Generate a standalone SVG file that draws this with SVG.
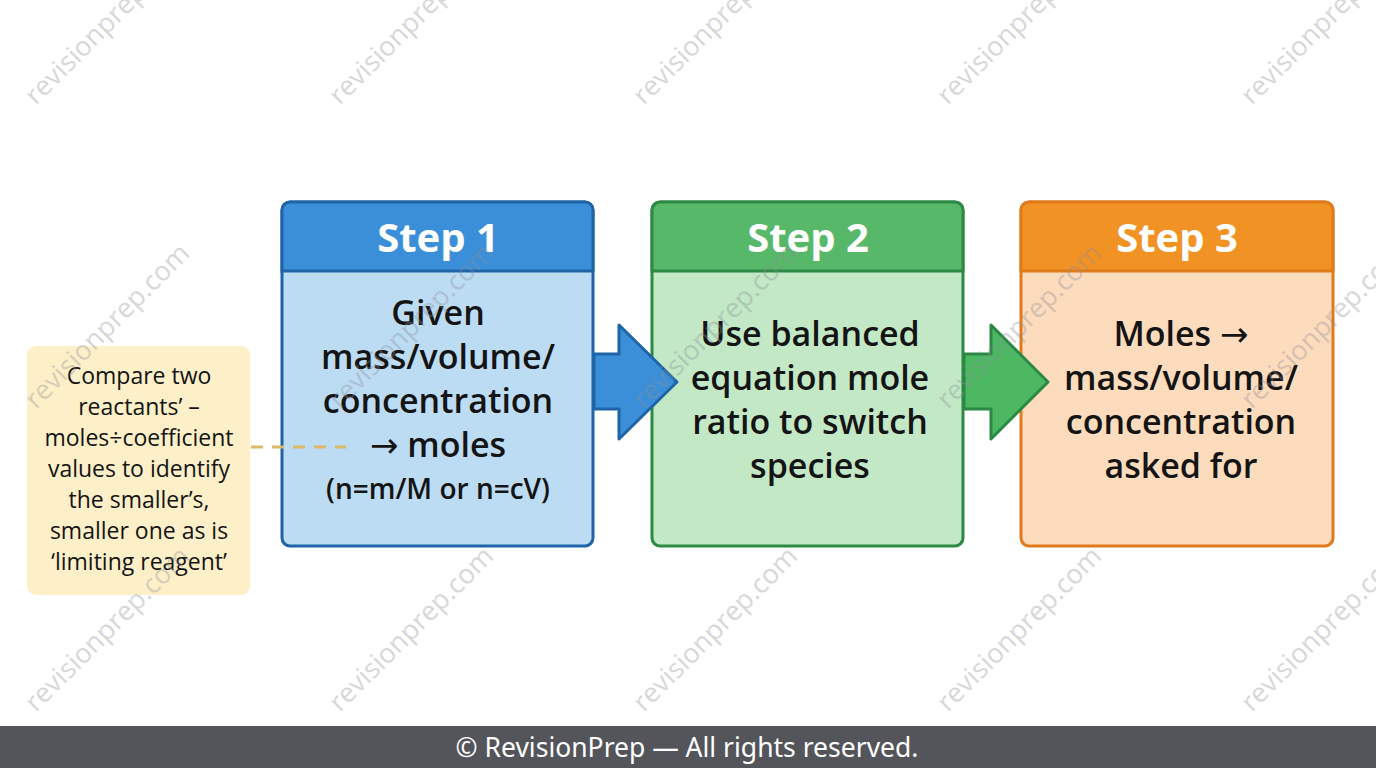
<svg xmlns="http://www.w3.org/2000/svg" width="1376" height="768" viewBox="0 0 1376 768">
<style>
.body{font-family:"Open Sans","Liberation Sans",sans-serif;font-size:34px;font-weight:600;fill:#141414;text-anchor:middle}
.small{font-size:28px}
.arw{font-family:"DejaVu Sans",sans-serif;font-weight:400}
.hdr{font-family:"Open Sans","Liberation Sans",sans-serif;font-size:40px;font-weight:700;fill:#ffffff;text-anchor:middle}
.note{font-family:"Open Sans","Liberation Sans",sans-serif;font-size:23px;font-weight:500;fill:#141414;text-anchor:middle}
.wm{font-family:"Open Sans","Liberation Sans",sans-serif;font-size:27px;fill:#8e8e96;opacity:0.35}
.foot{font-family:"Noto Sans","Open Sans",sans-serif;font-size:26.5px;fill:#ffffff;text-anchor:middle}
</style>
<rect x="0" y="0" width="1376" height="768" fill="#ffffff"/>

<g id="note">
  <rect x="27" y="346" width="223" height="249" rx="9" fill="#fdf0c8"/>
  <text class="note" x="139" y="384">Compare two</text>
  <text class="note" x="139" y="415">reactants’ –</text>
  <text class="note" x="139" y="446">moles÷coefficient</text>
  <text class="note" x="139" y="477">values to identify</text>
  <text class="note" x="139" y="508">the smaller’s,</text>
  <text class="note" x="139" y="539">smaller one as is</text>
  <text class="note" x="139" y="570">‘limiting reagent’</text>
</g>

<g id="step1">
  <rect x="282" y="202" width="311" height="344" rx="8" fill="#bcdcf4" stroke="#1f64a6" stroke-width="3"/>
  <path d="M282,271 V210 a8,8 0 0 1 8,-8 H585 a8,8 0 0 1 8,8 V271 Z" fill="#3b8fd8" stroke="#1f64a6" stroke-width="3"/>
  <text class="hdr" x="438" y="252">Step 1</text>
  <text class="body" x="438" y="325">Given</text>
  <text class="body" x="438" y="369">mass/volume/</text>
  <text class="body" x="438" y="413">concentration</text>
  <text class="body" x="438" y="457"><tspan class="arw">→</tspan> moles</text>
  <text class="body small" x="438" y="499">(n=m/M or n=cV)</text>
</g>

<g id="step2">
  <rect x="652" y="202" width="311" height="344" rx="8" fill="#c2e8c6" stroke="#2c8a44" stroke-width="3"/>
  <path d="M652,271 V210 a8,8 0 0 1 8,-8 H955 a8,8 0 0 1 8,8 V271 Z" fill="#56b868" stroke="#2c8a44" stroke-width="3"/>
  <text class="hdr" x="808" y="252">Step 2</text>
  <text class="body" x="810" y="346">Use balanced</text>
  <text class="body" x="810" y="390">equation mole</text>
  <text class="body" x="810" y="434">ratio to switch</text>
  <text class="body" x="810" y="478">species</text>
</g>

<g id="step3">
  <rect x="1021" y="202" width="312" height="344" rx="8" fill="#fddcbd" stroke="#e07b1c" stroke-width="3"/>
  <path d="M1021,271 V210 a8,8 0 0 1 8,-8 H1325 a8,8 0 0 1 8,8 V271 Z" fill="#f19224" stroke="#e07b1c" stroke-width="3"/>
  <text class="hdr" x="1177" y="252">Step 3</text>
  <text class="body" x="1181" y="346">Moles <tspan class="arw">→</tspan></text>
  <text class="body" x="1181" y="390">mass/volume/</text>
  <text class="body" x="1181" y="434">concentration</text>
  <text class="body" x="1181" y="478">asked for</text>
</g>

<g id="connectors">
  <line x1="251" y1="447" x2="346" y2="447" stroke="#dcb869" stroke-width="3" stroke-dasharray="12 9"/>
  <path d="M594,354 H619 V325 L677,382 L619,439 V409 H594 Z" fill="#3b8fd8" stroke="#1f64a6" stroke-width="3" stroke-linejoin="round"/>
  <path d="M964,354 H991 V325 L1048,382 L991,439 V409 H964 Z" fill="#4db862" stroke="#2a8744" stroke-width="3" stroke-linejoin="round"/>
</g>

<g id="watermarks">
  <text class="wm" x="36" y="106" transform="rotate(-45 36 106)">revisionprep.com</text>
  <text class="wm" x="340" y="106" transform="rotate(-45 340 106)">revisionprep.com</text>
  <text class="wm" x="644" y="106" transform="rotate(-45 644 106)">revisionprep.com</text>
  <text class="wm" x="948" y="106" transform="rotate(-45 948 106)">revisionprep.com</text>
  <text class="wm" x="1252" y="106" transform="rotate(-45 1252 106)">revisionprep.com</text>
  <text class="wm" x="36" y="410" transform="rotate(-45 36 410)">revisionprep.com</text>
  <text class="wm" x="340" y="410" transform="rotate(-45 340 410)">revisionprep.com</text>
  <text class="wm" x="644" y="410" transform="rotate(-45 644 410)">revisionprep.com</text>
  <text class="wm" x="948" y="410" transform="rotate(-45 948 410)">revisionprep.com</text>
  <text class="wm" x="1252" y="410" transform="rotate(-45 1252 410)">revisionprep.com</text>
  <text class="wm" x="36" y="713" transform="rotate(-45 36 713)">revisionprep.com</text>
  <text class="wm" x="340" y="713" transform="rotate(-45 340 713)">revisionprep.com</text>
  <text class="wm" x="644" y="713" transform="rotate(-45 644 713)">revisionprep.com</text>
  <text class="wm" x="948" y="713" transform="rotate(-45 948 713)">revisionprep.com</text>
  <text class="wm" x="1252" y="713" transform="rotate(-45 1252 713)">revisionprep.com</text>
</g>

<g id="footer">
  <rect x="0" y="726" width="1376" height="42" fill="#54555a"/>
  <text class="foot" x="687" y="757">© RevisionPrep — All rights reserved.</text>
</g>
</svg>
